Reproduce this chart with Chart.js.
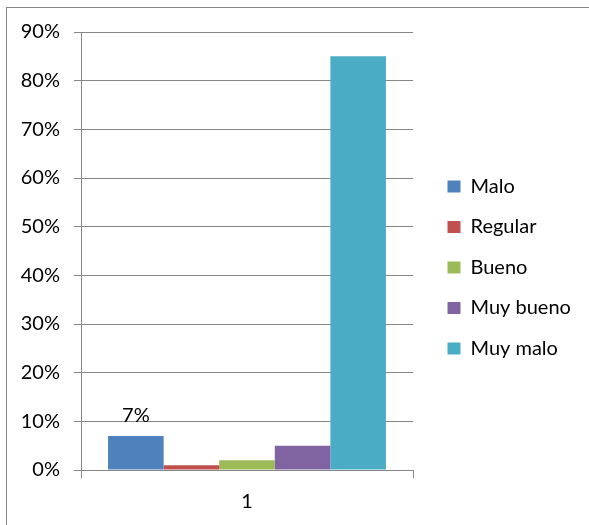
<!DOCTYPE html>
<html>
<head>
<meta charset="utf-8">
<script src="https://cdn.jsdelivr.net/npm/chart.js@4"></script>
<style>
  body { margin: 0; background: #fff; }
  #frame { position: absolute; left: 6px; top: 7px; width: 700px; height: 700px; border: 1px solid #868686; }
  #chart { position: absolute; left: 0; top: 0; }
</style>
</head>
<body>
<div id="frame"></div>
<canvas id="chart" width="589" height="525"></canvas>
<script>
var categories = ['1'];
var seriesNames = ['Malo', 'Regular', 'Bueno', 'Muy bueno', 'Muy malo'];
var seriesValues = [7, 1, 2, 5, 85];
var seriesColors = ['#4F81BD', '#C0504D', '#9BBB59', '#8064A2', '#4BACC6'];
var showValue = [true, false, false, false, false];

var gridColor = '#878787';
var font = { family: 'Lato', size: 20 };

// Excel puts the legend a bit further right/up than Chart.js does
var legendNudge = {
  id: 'legendNudge',
  afterLayout: function(chart) {
    var lg = chart.legend;
    lg.left += 14; lg.right += 14;
    lg.top -= 11; lg.bottom -= 11;
  }
};

// value label above the bars that have one
var valueLabels = {
  id: 'valueLabels',
  afterDatasetsDraw: function(chart) {
    var ctx = chart.ctx;
    ctx.save();
    ctx.font = font.size + 'px ' + font.family;
    ctx.fillStyle = '#000';
    ctx.textAlign = 'center';
    ctx.textBaseline = 'bottom';
    chart.data.datasets.forEach(function(ds, i) {
      if (!showValue[i]) return;
      var bar = chart.getDatasetMeta(i).data[0];
      ctx.fillText(ds.data[0] + '%', bar.x, bar.y - 10);
    });
    ctx.restore();
  }
};

var datasets = seriesNames.map(function(name, i) {
  return {
    label: name,
    data: [seriesValues[i]],
    backgroundColor: seriesColors[i],
    borderWidth: 0
  };
});

var ctx = document.getElementById('chart').getContext('2d');
var chart = new Chart(ctx, {
  type: 'bar',
  data: { labels: categories, datasets: datasets },
  plugins: [legendNudge, valueLabels],
  options: {
    responsive: false,
    animation: false,
    devicePixelRatio: 1,
    layout: { padding: { top: 32, right: 26, left: 0, bottom: 0 } },
    datasets: { bar: { categoryPercentage: 0.837, barPercentage: 1 } },
    plugins: {
      legend: {
        position: 'right',
        maxWidth: 150,
        labels: {
          boxWidth: 13,
          boxHeight: 12,
          padding: 20.5,
          color: '#000',
          font: font
        }
      },
      tooltip: { enabled: false }
    },
    scales: {
      x: {
        grid: { offset: true, drawOnChartArea: false, tickLength: 8, color: gridColor },
        border: { color: gridColor },
        ticks: { color: '#000', font: font, padding: 12 },
        afterFit: function(scale) { scale.height = 55; }
      },
      y: {
        min: 0,
        max: 90,
        grid: { tickLength: 7, color: gridColor },
        border: { color: gridColor },
        ticks: {
          stepSize: 10,
          color: '#000',
          font: font,
          padding: 14,
          callback: function(v) { return v + '%'; }
        },
        afterFit: function(scale) { scale.width = 81; }
      }
    }
  }
});
</script>
</body>
</html>
